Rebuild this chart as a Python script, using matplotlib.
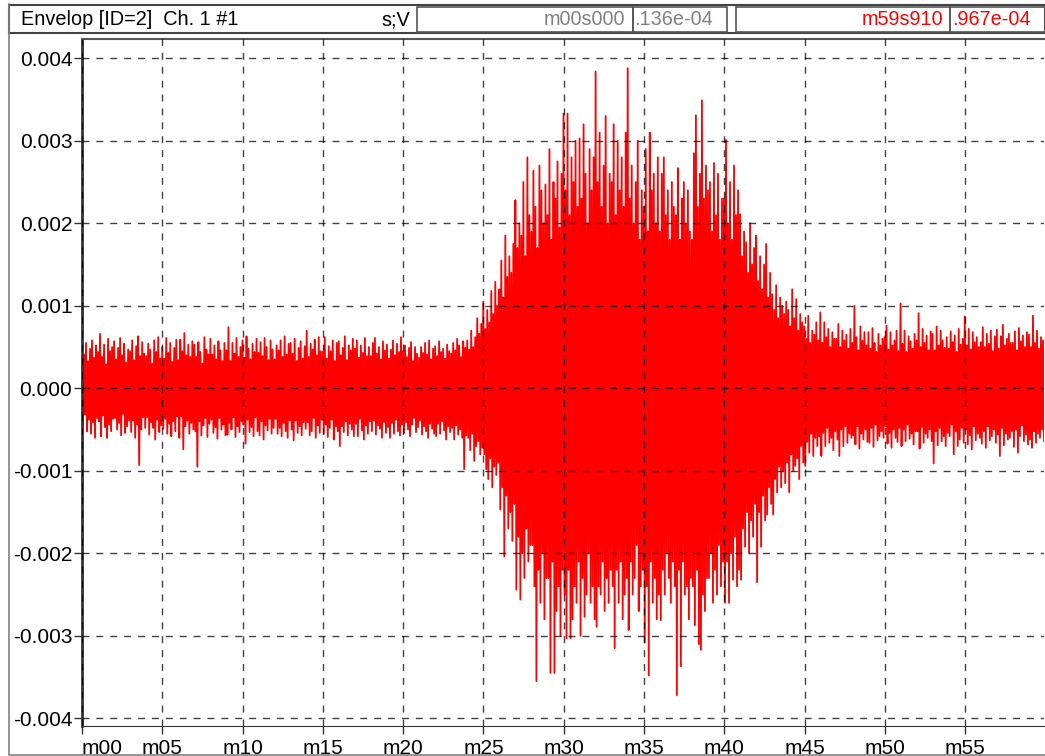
import numpy as np
import matplotlib
matplotlib.use('Agg')
import matplotlib.pyplot as plt
from matplotlib.patches import Rectangle

plt.rcParams['font.family'] = ['Liberation Sans', 'DejaVu Sans']

# envelope trace, peak values, units of 1e-5 V
# 8 upper and 8 lower peaks per minute, one row per minute
upper = [
    62, 41, 55, 33, 48, 58, 37, 52,
    44, 66, 38, 53, 29, 60, 45, 50,
    57, 35, 49, 61, 40, 54, 31, 47,
    45, 58, 34, 51, 63, 39, 56, 42,
    39, 54, 47, 30, 58, 44, 62, 36,
    50, 36, 61, 43, 55, 32, 49, 59,
    34, 59, 45, 67, 40, 53, 38, 57,
    53, 38, 56, 44, 30, 62, 47, 41,
    60, 41, 52, 35, 57, 46, 33, 55,
    46, 74, 33, 55, 42, 61, 38, 50,
    58, 37, 63, 48, 35, 54, 44, 60,
    43, 56, 39, 61, 50, 34, 58, 47,
    35, 52, 46, 58, 38, 63, 41, 54,
    55, 42, 60, 33, 49, 57, 36, 51,
    70, 38, 54, 47, 59, 40, 62, 45,
    44, 62, 36, 51, 45, 58, 33, 55,
    57, 40, 49, 63, 34, 52, 46, 60,
    48, 58, 37, 52, 43, 61, 39, 50,
    39, 55, 61, 42, 50, 35, 57, 46,
    53, 36, 47, 58, 40, 54, 44, 62,
    45, 52, 38, 49, 56, 33, 50, 42,
    37, 50, 43, 55, 41, 58, 35, 48,
    51, 39, 57, 44, 48, 36, 53, 45,
    42, 55, 46, 60, 52, 38, 57, 49,
    58, 47, 70, 50, 62, 85, 66, 78,
    105, 72, 95, 80, 118, 90, 129, 100,
    120, 155, 110, 185, 135, 160, 140, 175,
    228, 170, 200, 185, 250, 160, 280, 210,
    190, 264, 220, 170, 270, 240, 200, 247,
    210, 290, 180, 250, 230, 275, 195, 260,
    333, 240, 333, 210, 280, 250, 300, 220,
    303, 230, 320, 260, 200, 290, 240, 280,
    384, 250, 310, 220, 270, 330, 200, 260,
    250, 320, 210, 300, 240, 280, 220, 310,
    388, 230, 270, 200, 250, 300, 180, 240,
    220, 290, 190, 310, 240, 260, 200, 280,
    190, 260, 280, 210, 240, 180, 250, 220,
    210, 267, 180, 230, 250, 200, 240, 190,
    180, 285, 331, 220, 260, 349, 230, 270,
    240, 250, 190, 273, 210, 260, 180, 230,
    230, 301, 200, 250, 180, 270, 210, 240,
    211, 160, 190, 177, 140, 200, 150, 170,
    185, 130, 160, 120, 150, 175, 110, 140,
    114, 95, 125, 85, 110, 100, 90, 105,
    95, 75, 120, 85, 108, 70, 90, 80,
    75, 60, 88, 55, 70, 65, 80, 58,
    92, 55, 80, 62, 72, 50, 68, 60,
    60, 78, 50, 70, 58, 65, 48, 72,
    55, 100, 62, 46, 75, 58, 68, 52,
    68, 48, 73, 55, 44, 66, 52, 60,
    62, 76, 47, 68, 52, 58, 70, 45,
    103, 54, 70, 44, 63, 57, 48, 66,
    58, 91, 50, 72, 55, 64, 46, 69,
    66, 46, 75, 52, 70, 58, 49, 62,
    48, 69, 56, 64, 44, 72, 53, 60,
    87, 52, 72, 47, 68, 56, 62, 50,
    56, 74, 50, 66, 54, 70, 45, 63,
    71, 48, 63, 77, 52, 60, 66, 55,
    55, 69, 46, 73, 57, 64, 50, 68,
    65, 50, 88, 55, 70, 48, 62, 58,
]
lower = [
    -45, -32, -52, -38, -55, -41, -60, -36,
    -40, -58, -33, -47, -60, -44, -52, -37,
    -36, -50, -42, -57, -31, -54, -46, -39,
    -53, -39, -60, -44, -93, -50, -35, -48,
    -35, -56, -41, -48, -62, -38, -53, -45,
    -49, -37, -55, -43, -58, -40, -52, -34,
    -60, -34, -74, -46, -39, -55, -42, -50,
    -52, -95, -40, -57, -45, -36, -59, -43,
    -38, -54, -47, -61, -36, -50, -44, -57,
    -56, -42, -50, -35, -59, -46, -53, -40,
    -44, -67, -38, -53, -47, -58, -35, -52,
    -57, -40, -62, -45, -51, -37, -55, -48,
    -37, -55, -48, -58, -42, -52, -60, -39,
    -50, -63, -39, -54, -46, -57, -41, -49,
    -41, -57, -52, -36, -60, -45, -54, -38,
    -55, -44, -59, -48, -38, -62, -46, -52,
    -70, -46, -53, -40, -57, -43, -50, -58,
    -43, -58, -37, -51, -62, -45, -55, -40,
    -52, -39, -56, -45, -49, -60, -41, -54,
    -47, -60, -42, -55, -38, -52, -57, -44,
    -54, -41, -50, -58, -44, -36, -53, -47,
    -39, -56, -46, -52, -60, -43, -49, -55,
    -58, -43, -55, -40, -51, -62, -46, -53,
    -48, -62, -45, -56, -50, -60, -98, -57,
    -60, -75, -55, -88, -70, -64, -80, -72,
    -80, -98, -110, -85, -120, -95, -105, -90,
    -147, -120, -204, -130, -170, -150, -185, -140,
    -244, -180, -256, -200, -230, -170, -210, -190,
    -190, -240, -355, -220, -260, -200, -280, -230,
    -230, -345, -210, -345, -270, -240, -300, -220,
    -250, -303, -220, -303, -280, -240, -260, -210,
    -300, -230, -277, -250, -200, -260, -240, -280,
    -289, -240, -250, -210, -270, -230, -260, -220,
    -240, -315, -220, -260, -210, -280, -250, -230,
    -293, -210, -250, -230, -190, -270, -240, -220,
    -308, -240, -348, -210, -260, -230, -280, -250,
    -281, -220, -250, -200, -230, -260, -210, -240,
    -372, -220, -337, -210, -250, -240, -280, -230,
    -240, -287, -220, -310, -317, -250, -270, -230,
    -230, -200, -260, -220, -250, -190, -240, -210,
    -260, -210, -260, -200, -232, -180, -240, -220,
    -232, -170, -192, -150, -200, -160, -180, -140,
    -235, -150, -192, -130, -160, -153, -120, -140,
    -153, -110, -126, -95, -120, -100, -115, -90,
    -126, -80, -100, -94, -85, -110, -70, -90,
    -94, -65, -78, -55, -82, -60, -70, -58,
    -82, -54, -70, -48, -66, -60, -75, -52,
    -62, -82, -50, -70, -46, -66, -55, -60,
    -57, -68, -46, -73, -55, -62, -50, -65,
    -66, -48, -71, -44, -63, -58, -52, -60,
    -46, -67, -54, -72, -50, -60, -65, -48,
    -70, -50, -64, -44, -61, -55, -68, -52,
    -52, -73, -47, -66, -55, -60, -50, -64,
    -91, -52, -69, -48, -64, -58, -70, -54,
    -58, -44, -80, -52, -70, -62, -48, -66,
    -50, -68, -57, -74, -46, -63, -55, -60,
    -67, -52, -72, -46, -63, -58, -50, -66,
    -56, -82, -48, -69, -55, -62, -60, -52,
    -71, -50, -78, -58, -45, -64, -56, -68,
    -62, -72, -52, -66, -55, -60, -50, -64,
]
t_end = 59.91  # m59s910
xticks = list(range(0, 60, 5))
xlabels = ['m%02d' % m for m in xticks]
yticks = [-0.004, -0.003, -0.002, -0.001, 0.0, 0.001, 0.002, 0.003, 0.004]

W, H = 1045, 756
fig = plt.figure(figsize=(W / 100, H / 100), dpi=100)

# plot area in pixels
L, R, T, B = 82, 1044, 39, 726
ax = fig.add_axes([L / W, 1 - B / H, (R - L) / W, (B - T) / H])

sig = np.empty(len(upper) + len(lower))
sig[0::2] = np.array(upper) * 1e-5
sig[1::2] = np.array(lower) * 1e-5
t = np.linspace(0, t_end, len(sig))
ax.plot(t, sig, color='#ff0000', lw=1.3, zorder=1)

ax.set_xlim(0, t_end)
ax.set_ylim(-0.004093, 0.004234)
ax.set_xticks(xticks)
ax.set_xticklabels(xlabels)
ax.set_yticks(yticks)
ax.set_yticklabels(['%.3f' % v for v in yticks])
ax.get_xticklabels()[0].set_horizontalalignment('left')
ax.get_xticklabels()[0].set_x(-0.3)
ax.tick_params(axis='both', direction='out', length=6, width=1, color='#333333',
               labelsize=15, pad=1)
ax.tick_params(axis='x', pad=3)
ax.set_axisbelow(False)
ax.grid(True, color='black', alpha=0.75, lw=1, linestyle=(0, (5, 5)))
ax.spines['right'].set_visible(False)
ax.spines['left'].set_linewidth(2)
ax.spines['left'].set_color('#333333')
ax.spines['bottom'].set_color('#333333')
ax.spines['top'].set_color('#555555')
ax.spines['top'].set_linewidth(1.5)

# window frame and header bar, drawn in pixel coordinates
ov = fig.add_axes([0, 0, 1, 1], zorder=5)
ov.set_xlim(0, W)
ov.set_ylim(H, 0)
ov.axis('off')
ov.patch.set_alpha(0)
ov.plot([9, 9, W], [4, 755, 755], color='#808080', lw=1.2)
ov.add_patch(Rectangle((9, 5), W - 9, 28, fill=False, ec='#444444', lw=1.5))
for x0, x1 in [(417, 633), (633, 727), (736, 950), (950, W)]:
    ov.add_patch(Rectangle((x0, 6.5), x1 - x0, 25.5, fill=False, ec='#555555', lw=1.2))
ov.text(21, 19.5, 'Envelop [ID=2]  Ch. 1 #1', fontsize=14.3, va='center', ha='left', color='black')
ov.text(410, 19.5, 's;V', fontsize=14.3, va='center', ha='right', color='black')
ov.text(625, 19.5, 'm00s000', fontsize=14.3, va='center', ha='right', color='#808080')
ov.text(634, 19.5, '.136e-04', fontsize=14.3, va='center', ha='left', color='#808080')
ov.text(943, 19.5, 'm59s910', fontsize=14.3, va='center', ha='right', color='#ff0000')
ov.text(952, 19.5, '.967e-04', fontsize=14.3, va='center', ha='left', color='#ff0000')

fig.savefig('out.png', dpi=100)
